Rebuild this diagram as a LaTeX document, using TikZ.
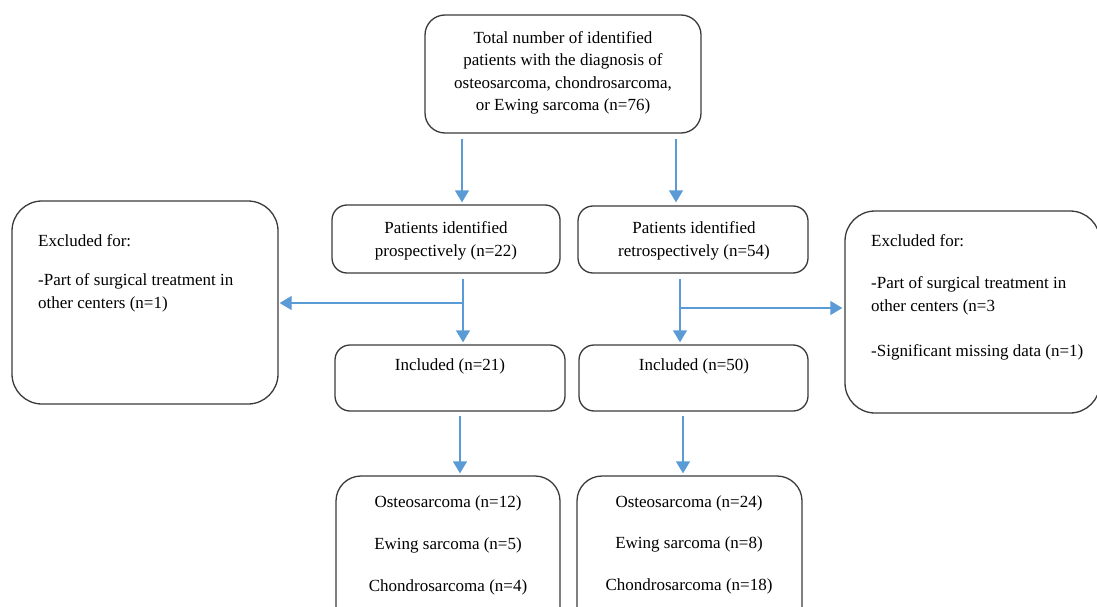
\documentclass[tikz,border=0pt]{standalone}
\usepackage{fontspec}
\setmainfont{Liberation Serif}
\usetikzlibrary{arrows.meta}
\definecolor{arr}{HTML}{5B9BD5}
\definecolor{bord}{HTML}{3A3A3A}
\begin{document}
\begin{tikzpicture}[x=1pt,y=-1pt,
  box/.style={draw=bord, line width=1.3pt, rounded corners=#1, inner sep=0pt},
  box/.default=15pt,
  txt/.style={font=\fontsize{17}{22.5}\selectfont, inner sep=0pt, align=center},
  ltxt/.style={font=\fontsize{17}{22.5}\selectfont, inner sep=0pt, align=left, anchor=west},
  flow/.style={draw=arr, line width=1.3pt, -{Triangle[length=12pt,width=14pt]}}]
\useasboundingbox (0,0) rectangle (1097,607);
\clip (0,0) rectangle (1097,607);
% boxes
\node[box=20pt, minimum width=276pt, minimum height=118pt] (top) at (563,74) {};
\node[box, minimum width=228pt, minimum height=68pt] (pros) at (446,239) {};
\node[box, minimum width=230pt, minimum height=67pt] (retro) at (693,239.5) {};
\node[box=30pt, minimum width=266pt, minimum height=203pt] (exL) at (145,302.5) {};
\node[box=30pt, minimum width=255pt, minimum height=202pt] (exR) at (972.5,312) {};
\node[box, minimum width=230pt, minimum height=66pt] (incL) at (450,378) {};
\node[box, minimum width=229pt, minimum height=66pt] (incR) at (693.5,378) {};
\node[box=25pt, minimum width=224pt, minimum height=164pt] (botL) at (448,558) {};
\node[box=25pt, minimum width=225pt, minimum height=164pt] (botR) at (689.5,558) {};
% texts
\node[txt] (ttop) at (563,73) {Total number of identified\\patients with the diagnosis of\\osteosarcoma, chondrosarcoma,\\or Ewing sarcoma (n=76)};
\node[txt] (tpros) at (446,241) {Patients identified\\prospectively (n=22)};
\node[txt] (tretro) at (694,241) {Patients identified\\retrospectively (n=54)};
\node[ltxt] (tex1a) at (38,241) {Excluded for:};
\node[ltxt] (tex1b) at (38,293) {-Part of surgical treatment in\\other centers (n=1)};
\node[ltxt] (tex2a) at (871,241) {Excluded for:};
\node[ltxt] (tex2b) at (871,296) {-Part of surgical treatment in\\other centers (n=3};
\node[ltxt] (tex2c) at (871,352) {-Significant missing data (n=1)};
\node[txt] (tincL) at (450,366) {Included (n=21)};
\node[txt] (tincR) at (694,366) {Included (n=50)};
\node[txt] (b1) at (448,503) {Osteosarcoma (n=12)};
\node[txt] (b2) at (448,545) {Ewing sarcoma (n=5)};
\node[txt] (b3) at (448,587) {Chondrosarcoma (n=4)};
\node[txt] (b4) at (689,503) {Osteosarcoma (n=24)};
\node[txt] (b5) at (689,544) {Ewing sarcoma (n=8)};
\node[txt] (b6) at (689,586) {Chondrosarcoma (n=18)};
% connector columns
\coordinate (xa) at (462,0);
\coordinate (xb) at (676,0);
\coordinate (xc) at (463,0);
\coordinate (xd) at (680,0);
\coordinate (xe) at (460,0);
\coordinate (xf) at (683,0);
\coordinate (br1) at (463,303);
\coordinate (br2) at (680,308);
% connectors
\draw[flow, shorten <=5pt, shorten >=2pt] (top.south -| xa) -- (pros.north -| xa);
\draw[flow, shorten <=5pt, shorten >=3pt] (top.south -| xb) -- (retro.north -| xb);
\draw[flow, shorten <=5pt, shorten >=2pt] (pros.south -| xc) -- (incL.north -| xc);
\draw[flow, shorten <=5pt, shorten >=2pt] (retro.south -| xd) -- (incR.north -| xd);
\draw[flow, shorten >=1pt] (br1) -- (exL.east |- br1);
\draw[flow, shorten >=2pt] (br2) -- (exR.west |- br2);
\draw[flow, shorten <=4pt, shorten >=2pt] (incL.south -| xe) -- (botL.north -| xe);
\draw[flow, shorten <=4pt, shorten >=2pt] (incR.south -| xf) -- (botR.north -| xf);
\end{tikzpicture}
\end{document}
